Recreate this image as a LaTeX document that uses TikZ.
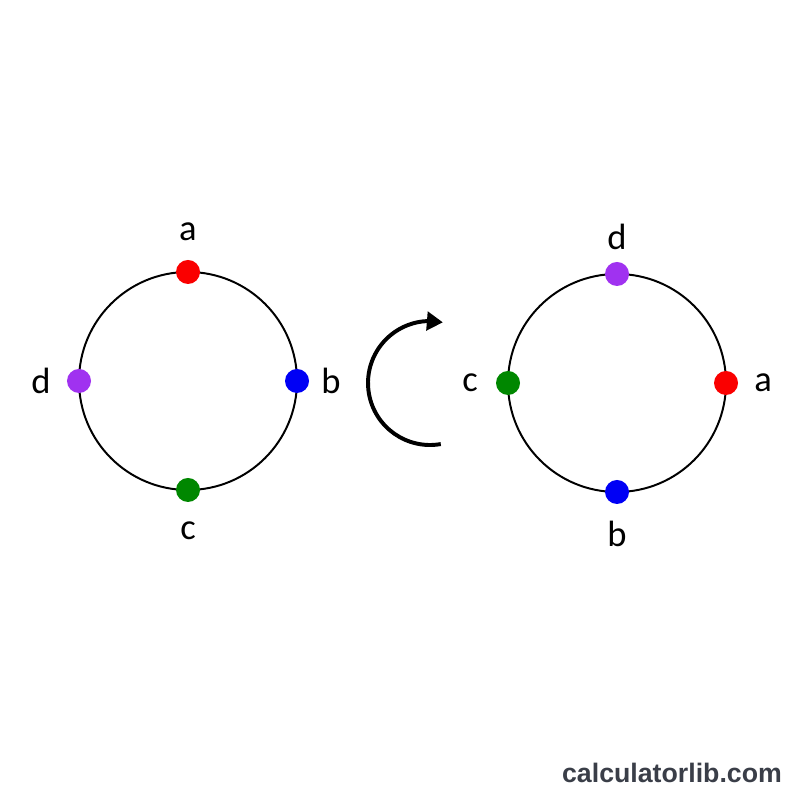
\documentclass[tikz,border=0pt]{standalone}
\usepackage{fontspec}
\setmainfont{Carlito}
\newfontfamily\markfont{Liberation Sans}
\usetikzlibrary{arrows.meta,bending,calc}
\definecolor{ptred}{RGB}{250,0,0}
\definecolor{ptblue}{RGB}{0,0,245}
\definecolor{ptgreen}{RGB}{0,135,0}
\definecolor{ptpurple}{RGB}{160,50,240}
\definecolor{markgray}{RGB}{58,62,72}
\begin{document}
\begin{tikzpicture}[
            x=0.025cm, y=0.025cm,
            ring/.style={line width=1.4pt},
            dot/.style={circle, inner sep=0pt, minimum size=0.6cm},
            lbl/.style={inner sep=0pt, font=\fontsize{26}{30}\selectfont},
            turn/.style={line width=2.8pt, -{Triangle[length=0.4cm, width=0.46cm]}}
        ]
            \fill[white] (0,0) rectangle (800,800);
            \useasboundingbox (0,0) rectangle (800,800);

            \coordinate (lctr) at (188,419);
            \coordinate (rctr) at (617,417);
            \draw[ring] (lctr) circle (109);
            \draw[ring] (rctr) circle (109);

            % before the turn
            \foreach \n/\a/\c/\d in {a/90/ptred/149, b/0/ptblue/143, c/270/ptgreen/150, d/180/ptpurple/147} {
                \node[dot, fill=\c] (ldot\n) at ($(lctr)+(\a:109)$) {};
                \node[lbl] (llbl\n) at ($(lctr)+(\a:\d)$) {\n};
            }

            % after the turn
            \foreach \n/\a/\c/\d in {d/90/ptpurple/146, a/0/ptred/146, b/270/ptblue/151, c/180/ptgreen/147} {
                \node[dot, fill=\c] (rdot\n) at ($(rctr)+(\a:109)$) {};
                \node[lbl] (rlbl\n) at ($(rctr)+(\a:\d)$) {\n};
            }

            \coordinate (tctr) at (430,417);
            \coordinate (tbeg) at ($(tctr)+(280:62)$);
            \draw[turn] (tbeg) arc[start angle=280, end angle=78, radius=62];

            \node[font=\markfont\bfseries\fontsize{19}{22}\selectfont, text=markgray] (mark) at (672,27) {calculatorlib.com};
        \end{tikzpicture}
\end{document}
